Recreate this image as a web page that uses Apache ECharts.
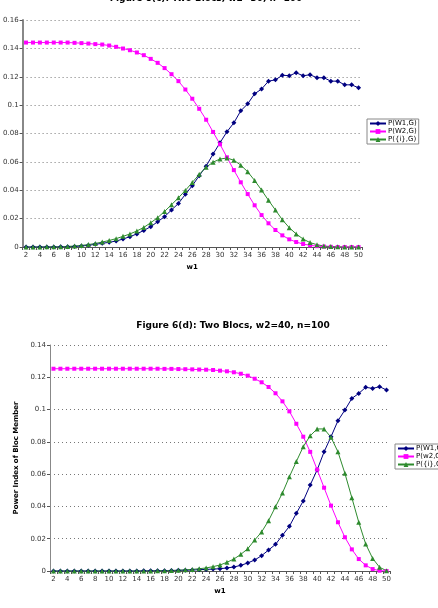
<!DOCTYPE html>
<html><head><meta charset="utf-8">
<script src="https://cdn.jsdelivr.net/npm/echarts@6/dist/echarts.min.js"></script>
<style>html,body{margin:0;padding:0;background:#fff}#c{width:438px;height:608px}</style>
</head><body><div id="c"></div>
<script>
// categories (w1 = 2..50)
const w1 = ['2','3','4','5','6','7','8','9','10','11','12','13','14','15','16','17','18','19','20','21','22','23','24','25','26','27','28','29','30','31','32','33','34','35','36','37','38','39','40','41','42','43','44','45','46','47','48','49','50'];

// Figure 6(c): w2=30
const c_W1 = [0,0,0,0,0,0.0001,0.0002,0.0004,0.0007,0.0012,0.0019,0.0026,0.0033,0.0042,0.0056,0.0073,0.0092,0.0117,0.0143,0.0178,0.0214,0.0261,0.0307,0.0371,0.0432,0.0502,0.0570,0.0655,0.0735,0.0812,0.0875,0.0960,0.1009,0.1080,0.1113,0.1169,0.1178,0.1211,0.1207,0.1228,0.1207,0.1214,0.1193,0.1193,0.1169,0.1169,0.1143,0.1143,0.1122];
const c_W2 = [0.1441,0.1441,0.1441,0.1441,0.1441,0.1441,0.1441,0.1439,0.1437,0.1434,0.1430,0.1427,0.1420,0.1411,0.1399,0.1387,0.1371,0.1352,0.1326,0.1298,0.1261,0.1218,0.1169,0.1110,0.1045,0.0974,0.0897,0.0811,0.0724,0.0632,0.0542,0.0456,0.0373,0.0294,0.0225,0.0167,0.0120,0.0082,0.0054,0.0035,0.0021,0.0012,0.0006,0.0003,0.0001,0,0,0,0];
const c_I = [0,0,0,0.0001,0.0001,0.0002,0.0004,0.0007,0.0011,0.0017,0.0025,0.0035,0.0046,0.0059,0.0075,0.0092,0.0113,0.0138,0.0171,0.0207,0.0251,0.0298,0.0347,0.0399,0.0455,0.0512,0.0562,0.0598,0.0620,0.0627,0.0612,0.0577,0.0530,0.0469,0.0401,0.0329,0.0261,0.0192,0.0136,0.0092,0.0056,0.0031,0.0016,0.0007,0.0003,0.0001,0,0,0];

// Figure 6(d): w2=40
const d_W1 = [0,0,0,0,0,0,0,0,0,0,0,0,0,0.0001,0.0001,0.0002,0.0002,0.0003,0.0004,0.0005,0.0006,0.0008,0.0010,0.0012,0.0014,0.0019,0.0025,0.0035,0.0050,0.0068,0.0095,0.0130,0.0165,0.0221,0.0277,0.0357,0.0434,0.0533,0.0626,0.0738,0.0832,0.0931,0.0997,0.1069,0.1100,0.1138,0.1131,0.1142,0.1121];
const d_W2 = [0.1253,0.1253,0.1253,0.1253,0.1253,0.1253,0.1253,0.1253,0.1253,0.1253,0.1253,0.1253,0.1253,0.1253,0.1253,0.1253,0.1252,0.1252,0.1251,0.1250,0.1249,0.1248,0.1247,0.1245,0.1241,0.1237,0.1231,0.1222,0.1210,0.1191,0.1169,0.1140,0.1101,0.1051,0.0989,0.0912,0.0832,0.0738,0.0628,0.0516,0.0405,0.0302,0.0209,0.0134,0.0074,0.0035,0.0012,0.0002,0];
const d_I = [0,0,0,0,0,0,0,0,0,0,0,0,0,0,0,0.0001,0.0002,0.0003,0.0005,0.0007,0.0010,0.0014,0.0019,0.0027,0.0037,0.0054,0.0074,0.0103,0.0138,0.0192,0.0242,0.0312,0.0398,0.0483,0.0584,0.0678,0.0770,0.0838,0.0880,0.0880,0.0828,0.0738,0.0605,0.0454,0.0302,0.0167,0.0078,0.0023,0.0002];

const names1 = ['P(W1,G)','P(W2,G)','P({i},G)'];
const names2 = ['P(W1,G)','P(w2,G)','P({i},G)'];
const titles = ['Figure 6(c): Two Blocs, w2=30, n=100','Figure 6(d): Two Blocs, w2=40, n=100'];
const yTicks = [[0,0.16,0.02],[0,0.14,0.02]];

const FONT = 'DejaVu Sans';
const colors = ['#000080','#FF00FF','#2E8B2E'];
const symbols = ['diamond','rect','triangle'];

function xAxis(gi, name, nameGap){
  return {type:'category', gridIndex:gi, data:w1, boundaryGap:true,
    name:name, nameLocation:'middle', nameGap:nameGap,
    nameTextStyle:{fontFamily:FONT,fontSize:7,fontWeight:'bold',color:'#000'},
    axisLine:{lineStyle:{color:'#555',width:1}},
    axisTick:{show:true,interval:0,length:3,lineStyle:{color:'#555'}},
    axisLabel:{interval:1,fontFamily:FONT,fontSize:7,color:'#333',margin:5}};
}
function yAxis(gi, t, name, yw){
  return {type:'value', gridIndex:gi, min:t[0], max:t[1], interval:t[2],
    name:name, nameLocation:'middle', nameGap:26,
    nameTextStyle:{fontFamily:FONT,fontSize:7,fontWeight:'bold',color:'#000'},
    axisLine:{show:true,lineStyle:{color:'#888',width:yw}},
    axisTick:{show:true,length:3,lineStyle:{color:'#555'}},
    axisLabel:{fontFamily:FONT,fontSize:7,color:'#333',margin:4},
    splitLine:{show:true,lineStyle:{color:'#777',type:[1,3],width:1}}};
}
function series(gi, names, arrs){
  return arrs.map((d,i)=>({name:names[i], type:'line', xAxisIndex:gi, yAxisIndex:gi, data:d,
    symbol:symbols[i], symbolSize: i===1?4:5, showSymbol:true, showAllSymbol:true,
    lineStyle:{color:colors[i],width:1}, itemStyle:{color:colors[i]},
    animation:false}));
}
function legend(left, top, names){
  return {orient:'vertical', left:left, top:top, data:names, itemGap:1, itemWidth:16, itemHeight:6,
    padding:[1,2,1,2], borderColor:'#888', borderWidth:1, backgroundColor:'#fff',
    textStyle:{fontFamily:FONT,fontSize:7,color:'#000',padding:[0,0,0,-3]}, selectedMode:false};
}
const chart = echarts.init(document.getElementById('c'));
chart.setOption({
  animation:false,
  title:[
    {text:titles[0], left:201, top:-11, textAlign:'center', textStyle:{fontFamily:FONT,fontSize:9,fontWeight:'bold',color:'#000'}},
    {text:titles[1], left:228, top:316, textAlign:'center', textStyle:{fontFamily:FONT,fontSize:9,fontWeight:'bold',color:'#000'}}
  ],
  legend:[legend(367,119,names1), legend(395,444,names2)],
  grid:[
    {left:22, right:76, top:20, bottom:361},
    {left:50, right:48, top:345, bottom:37}
  ],
  xAxis:[xAxis(0,'w1',17), xAxis(1,'w1',17)],
  yAxis:[yAxis(0,yTicks[0],'',2), yAxis(1,yTicks[1],'Power Index of Bloc Member',1)],
  series:[...series(0,names1,[c_W1,c_W2,c_I]), ...series(1,names2,[d_W1,d_W2,d_I])]
});
</script></body></html>
